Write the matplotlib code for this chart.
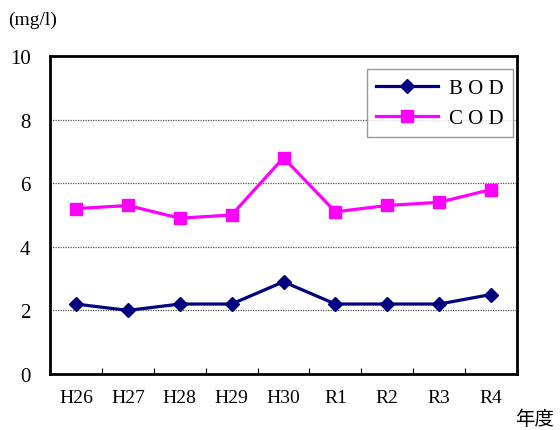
import matplotlib
matplotlib.use("Agg")
import matplotlib.pyplot as plt
from matplotlib.ticker import FixedLocator

categories = ["H26", "H27", "H28", "H29", "H30", "R1", "R2", "R3", "R4"]
bod = [2.2, 2.0, 2.2, 2.2, 2.9, 2.2, 2.2, 2.2, 2.5]
cod = [5.2, 5.3, 4.9, 5.0, 6.8, 5.1, 5.3, 5.4, 5.8]
yticks = [0, 2, 4, 6, 8, 10]

plt.rcParams['font.family'] = ['Liberation Serif', 'Noto Sans CJK JP']

fig = plt.figure(figsize=(5.6, 4.31), dpi=100)
ax = fig.add_axes([50/560, 56/431, 467/560, 318/431])

x = list(range(len(categories)))
ax.plot(x, bod, color='#000080', lw=2.3, marker='D', markersize=7.5, label='B O D', zorder=3)
ax.plot(x, cod, color='#FF00FF', lw=2.3, marker='s', markersize=9, label='C O D', zorder=3)

ax.set_xlim(-0.5, len(categories) - 0.5)
ax.set_ylim(0, 10)
ax.set_yticks(yticks)
ax.set_yticklabels([str(v) for v in yticks], fontsize=15)
ax.set_xticks(x)
ax.set_xticklabels(categories, fontsize=14)
ax.tick_params(axis='x', which='major', length=0, pad=11)
ax.tick_params(axis='y', which='major', length=0, pad=14)
ax.xaxis.set_minor_locator(FixedLocator([i + 0.5 for i in range(len(categories) - 1)]))
ax.tick_params(axis='x', which='minor', direction='in', length=4, width=0.8)

for v in yticks[1:-1]:
    ax.axhline(v, color='#555555', lw=0.9, ls=(0, (1, 1)), zorder=1)

for s in ax.spines.values():
    s.set_linewidth(2)
    s.set_color('black')

leg = ax.legend(loc='upper right', bbox_to_anchor=(0.991, 0.959), fontsize=15,
                frameon=True, fancybox=False, edgecolor='#808080', borderaxespad=0,
                handlelength=3.0, labelspacing=0.5, borderpad=0.45, handletextpad=0.5)
leg.get_frame().set_linewidth(1)

fig.text(8/560, 1 - 20/431, "(mg/l)", fontsize=14, va='center', ha='left')
fig.text(535/560, 1 - 420/431, "年度", fontsize=14, va='center', ha='center',
         family=['Noto Sans CJK JP'])

fig.savefig("out.png", dpi=100)
